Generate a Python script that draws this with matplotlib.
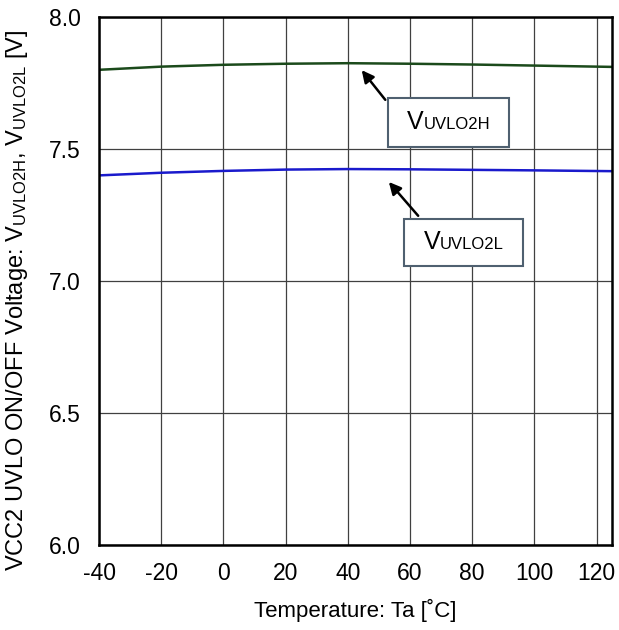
import numpy as np
import matplotlib
matplotlib.use("Agg")
import matplotlib.pyplot as plt
from matplotlib.patches import Rectangle
from matplotlib.offsetbox import TextArea, HPacker, AnnotationBbox

plt.rcParams['font.family'] = ['Liberation Sans', 'DejaVu Sans']
plt.rcParams['mathtext.fontset'] = 'custom'
plt.rcParams['mathtext.rm'] = 'Liberation Sans'
plt.rcParams['mathtext.it'] = 'Liberation Sans'
plt.rcParams['axes.unicode_minus'] = False

# data
temp = [-40, -20, 0, 20, 40, 60, 80, 100, 125]
v_uvlo2h = [7.800, 7.812, 7.819, 7.823, 7.825, 7.823, 7.820, 7.816, 7.811]
v_uvlo2l = [7.400, 7.410, 7.417, 7.422, 7.424, 7.423, 7.421, 7.419, 7.416]
x_ticks = [-40, -20, 0, 20, 40, 60, 80, 100, 120]
y_ticks = [6.0, 6.5, 7.0, 7.5, 8.0]

fig = plt.figure(figsize=(6.19, 6.30), dpi=100)
ax = fig.add_axes([0.16, 0.135, 0.829, 0.838])

ax.plot(temp, v_uvlo2h, color='#1b4a1b', lw=1.8, zorder=3)
ax.plot(temp, v_uvlo2l, color='#1a1acc', lw=1.8, zorder=3)

ax.set_xlim(-40, 125)
ax.set_ylim(6.0, 8.0)
ax.set_xticks(x_ticks)
ax.set_yticks(y_ticks)
ax.set_yticklabels([f"{v:.1f}" for v in y_ticks])
ax.tick_params(length=0, labelsize=16.5)
ax.tick_params(axis='x', pad=12)
ax.tick_params(axis='y', pad=13)
ax.grid(True, color='#404040', lw=0.9)
for s in ax.spines.values():
    s.set_linewidth(1.8)
    s.set_zorder(4)

ax.set_xlabel('Temperature: Ta [˚C]', fontsize=16, labelpad=10)
ax.set_ylabel(r'VCC2 UVLO ON/OFF Voltage: V$_{\mathrm{UVLO2H}}$, V$_{\mathrm{UVLO2L}}$ [V]',
              fontsize=17)
ax.yaxis.set_label_coords(-0.135, 0.464)

# annotation boxes
boxes = [((52.9, 7.508), 39.0, 0.185, 'UVLO2H', (52.6, 7.678), (43.9, 7.807)),
         ((58.1, 7.057), 38.3, 0.178, 'UVLO2L', (63.2, 7.239), (52.6, 7.383))]
for (bx, by), bw, bh, sub, tail, head in boxes:
    ax.add_patch(Rectangle((bx, by), bw, bh, facecolor='white', edgecolor='#4f6070',
                           lw=1.5, zorder=5))
    lab = HPacker(children=[TextArea('V', textprops=dict(fontsize=18)),
                            TextArea(sub, textprops=dict(fontsize=12))],
                  align='baseline', pad=0, sep=0)
    ab = AnnotationBbox(lab, (bx + bw / 2, by + bh / 2), frameon=False,
                        box_alignment=(0.5, 0.5), zorder=6)
    ax.add_artist(ab)
    ax.annotate('', xy=head, xytext=tail,
                arrowprops=dict(arrowstyle='-|>', color='black', lw=1.8,
                                mutation_scale=18), zorder=6)

fig.savefig('out.png', dpi=100)
